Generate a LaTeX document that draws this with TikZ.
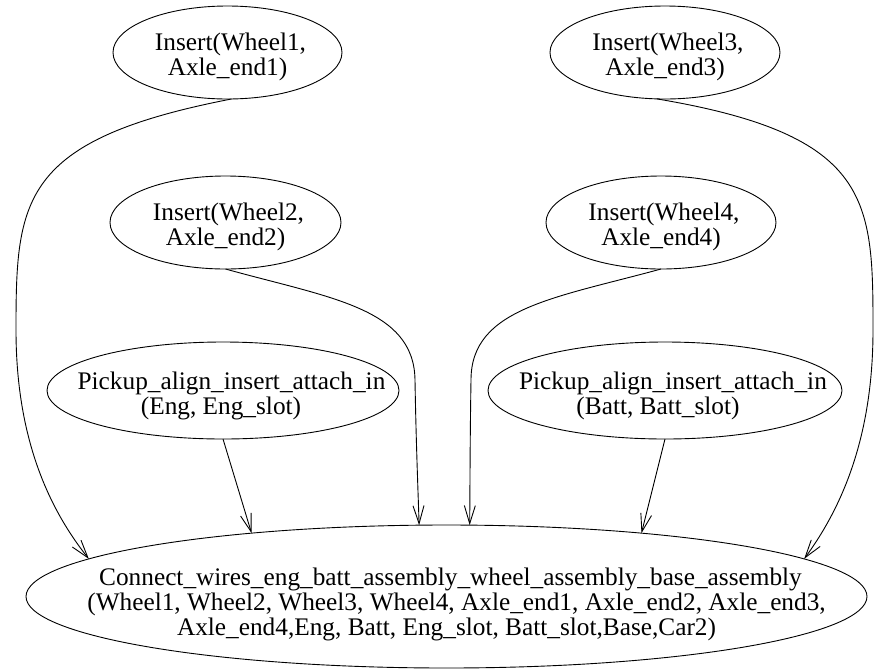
\documentclass[tikz,border=0pt]{standalone}
\usepackage{fontspec}
\setmainfont{Liberation Serif}
\usetikzlibrary{shapes.geometric,arrows.meta}
\newcommand\glbl[2][-12pt]{\smash{\makebox[0pt]{\raisebox{#1}{\begin{tabular}{@{}c@{}}#2\end{tabular}}}}}
\begin{document}
\begin{tikzpicture}[x=1pt,y=-1pt,
  ell/.style={ellipse,draw,line width=0.9pt,inner sep=0pt,outer sep=0pt},
  edgeline/.style={line width=0.9pt,-{Straight Barb[length=18pt,width=11pt,line width=0.9pt]}},
  every node/.style={font=\fontsize{25.3}{25}\selectfont}]
\useasboundingbox (0,0) rectangle (878,670);

\node[ell,minimum width=229pt,minimum height=93pt] (w1) at (227.5,52.5)
  {\glbl{\hspace*{6pt}Insert(Wheel1,\\Axle\_end1)}};
\node[ell,minimum width=231pt,minimum height=93pt] (w2) at (225.5,222.5)
  {\glbl{\hspace*{6pt}Insert(Wheel2,\\Axle\_end2)}};
\node[ell,minimum width=230pt,minimum height=93pt] (w3) at (665,52.5)
  {\glbl{\hspace*{6pt}Insert(Wheel3,\\Axle\_end3)}};
\node[ell,minimum width=230pt,minimum height=93pt] (w4) at (661,222.5)
  {\glbl{\hspace*{6pt}Insert(Wheel4,\\Axle\_end4)}};
\node[ell,minimum width=352pt,minimum height=97pt] (pe) at (223,390.5)
  {\glbl[-13pt]{\hspace*{17pt}Pickup\_align\_insert\_attach\_in\\(Eng, Eng\_slot)\hspace*{4pt}}};
\node[ell,minimum width=354pt,minimum height=97pt] (pb) at (665,390.5)
  {\glbl[-13pt]{\hspace*{16pt}Pickup\_align\_insert\_attach\_in\\(Batt, Batt\_slot)\hspace*{14pt}}};
\node[ell,minimum width=841pt,minimum height=143pt] (bot) at (446.5,596.5)
  {\glbl[-15pt]{\hspace*{8pt}Connect\_wires\_eng\_batt\_assembly\_wheel\_assembly\_base\_assembly\\
   \hspace*{20pt}(Wheel1, Wheel2, Wheel3, Wheel4, Axle\_end1, Axle\_end2, Axle\_end3,\\
   Axle\_end4,Eng, Batt, Eng\_slot, Batt\_slot,Base,Car2)}};

\draw[edgeline] (w1.275) .. controls (20,140) and (16,200) .. (16,330)
  .. controls (16,440) and (50,510) .. (bot.174);
\draw[edgeline] (w2.south) .. controls (330,298) and (414,308) .. (415,380)
  .. controls (416,440) and (418,490) .. (bot.111);
\draw[edgeline] (w3.260) .. controls (872,135) and (873,200) .. (873,330)
  .. controls (873,440) and (840,510) .. (bot.6);
\draw[edgeline] (w4.south) .. controls (555,298) and (471,308) .. (471,380)
  .. controls (470,440) and (470,490) .. (bot.72);
\draw[edgeline] (pe.south) -- (bot.162);
\draw[edgeline] (pb.south) -- (bot.18);
\end{tikzpicture}
\end{document}
